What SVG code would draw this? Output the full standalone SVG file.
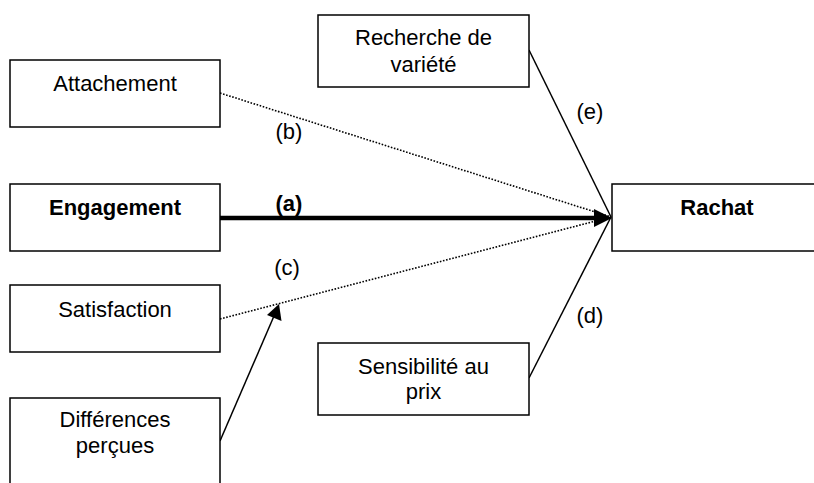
<svg xmlns="http://www.w3.org/2000/svg" width="814" height="483" viewBox="0 0 814 483">
<style>
.box{fill:#fff;stroke:#000;stroke-width:1.5}
.t{font-family:"Liberation Sans",Arial,sans-serif;font-size:22px;fill:#000;text-anchor:middle}
.b{font-weight:bold}
.dot{fill:none;stroke:#000;stroke-width:1.6;stroke-dasharray:1.6 1.6}
.sol{fill:none;stroke:#000;stroke-width:1.5}
</style>
<rect width="814" height="483" fill="#fff"/>
<g id="connectors">
<line class="dot" x1="220" y1="93" x2="611" y2="217"/>
<line class="dot" x1="220" y1="319" x2="611" y2="217"/>
<line class="sol" x1="529" y1="50" x2="611" y2="217"/>
<line class="sol" x1="529" y1="378" x2="611" y2="217"/>
<line x1="220" y1="218" x2="597" y2="218" stroke="#000" stroke-width="4.5"/>
<polygon points="594,209 612,218 594,227" fill="#000"/>
<line class="sol" x1="220" y1="441" x2="274" y2="316"/>
<polygon points="279,304 281.5,321 267,315" fill="#000"/>
<text class="t b" x="289" y="211">(a)</text>
<text class="t" x="289" y="139">(b)</text>
<text class="t" x="287" y="275">(c)</text>
<text class="t" x="590" y="323">(d)</text>
<text class="t" x="590" y="119">(e)</text>
</g>
<g id="attachement">
<rect class="box" x="10" y="60" width="210" height="67"/>
<text class="t" x="115" y="91">Attachement</text>
</g>
<g id="engagement">
<rect class="box" x="10" y="184" width="210" height="67"/>
<text class="t b" x="115" y="215">Engagement</text>
</g>
<g id="satisfaction">
<rect class="box" x="10" y="285" width="210" height="67"/>
<text class="t" x="115" y="317">Satisfaction</text>
</g>
<g id="differences">
<rect class="box" x="10" y="398" width="210" height="100"/>
<text class="t" x="115" y="427">Différences</text>
<text class="t" x="115" y="453">perçues</text>
</g>
<g id="recherche">
<rect class="box" x="318" y="15" width="211" height="72"/>
<text class="t" x="423.5" y="45">Recherche de</text>
<text class="t" x="423.5" y="72">variété</text>
</g>
<g id="sensibilite">
<rect class="box" x="318" y="343" width="211" height="72"/>
<text class="t" x="423.5" y="374">Sensibilité au</text>
<text class="t" x="423.5" y="399">prix</text>
</g>
<g id="rachat">
<rect class="box" x="612" y="184" width="210" height="67"/>
<text class="t b" x="717" y="215">Rachat</text>
</g>
</svg>
